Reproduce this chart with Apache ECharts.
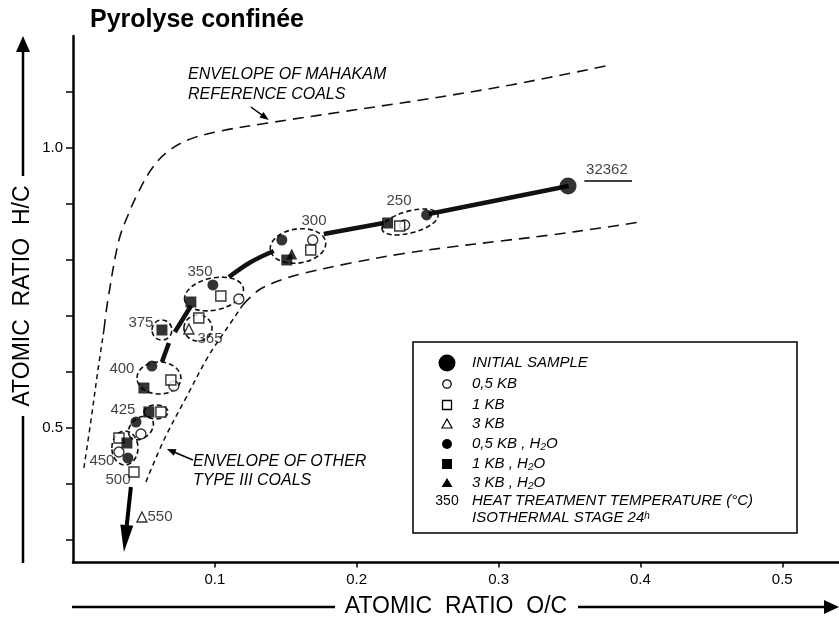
<!DOCTYPE html>
<html><head><meta charset="utf-8">
<script src="https://cdn.jsdelivr.net/npm/echarts@6/dist/echarts.min.js"></script>
<style>html,body{margin:0;padding:0;background:#fff}#c{width:839px;height:621px}</style>
</head><body><div id="c"></div>
<script>
// ---- axis ticks ----
const xTicks = [0.1, 0.2, 0.3, 0.4, 0.5];
const yTicks = [0.3, 0.4, 0.5, 0.6, 0.7, 0.8, 0.9, 1.0, 1.1];
const yLabels = [0.5, 1.0];

// ---- samples (O/C, H/C) ----
const initialSample = [[0.349, 0.932]];
const openCircle05 = [[0.2338,0.8625],[0.1690,0.8357],[0.1169,0.7304],[0.0711,0.5750],[0.0479,0.4893],[0.0324,0.4571]];
const openSquare1 = [[0.2303,0.8607],[0.1676,0.8179],[0.1042,0.7357],[0.0887,0.6964],[0.0690,0.5857],[0.0620,0.5286],[0.0324,0.4821],[0.0430,0.4214]];
const openTriangle3 = [[0.0817,0.6768],[0.0486,0.3411]];
const filledCircle05 = [[0.2493,0.8804],[0.1472,0.8357],[0.0986,0.7554],[0.0556,0.6107],[0.0444,0.5107],[0.0387,0.4464]];
const filledSquare1 = [[0.2218,0.8661],[0.1507,0.8000],[0.0831,0.7250],[0.0627,0.6750],[0.0500,0.5714],[0.0535,0.5286],[0.0380,0.4732]];
const filledTriangle3 = [[0.1542,0.8107]];

// ---- evolution path (thick line segments between clusters) ----
const pathSegments = [
  [[0.3493,0.9321],[0.2507,0.8821]],
  [[0.2190,0.8661],[0.1768,0.8464]],
  [[0.1415,0.8161],[0.1254,0.7964],[0.1099,0.7696]],
  [[0.0831,0.7179],[0.0718,0.6714]],
  [[0.0676,0.6518],[0.0627,0.6179]]
];
const pathArrow = [[0.0408,0.3946,0.0359,0.2786]];

// ---- envelopes ----
const mahakamUpper = [[0.0218,0.675],[0.0246,0.7286],[0.0324,0.8357],[0.0394,0.8839],[0.0458,0.9196],[0.0549,0.9607],[0.0655,0.9911],[0.0810,1.0143],[0.1042,1.0304],[0.1373,1.0446],[0.1887,1.0643],[0.2451,1.0857],[0.3085,1.1125],[0.3754,1.1464]];
const mahakamLower = [[0.1197,0.7196],[0.1310,0.7464],[0.1465,0.7643],[0.1606,0.7750],[0.1958,0.7946],[0.2310,0.8107],[0.2662,0.8232],[0.3014,0.8339],[0.3366,0.8446],[0.3718,0.8571],[0.4000,0.8679]];
const typeIIILeft = [[0.0077,0.4286],[0.0127,0.5143],[0.0176,0.6036],[0.0218,0.675]];
const typeIIIRight = [[0.0514,0.4036],[0.0641,0.4786],[0.0796,0.5536],[0.0951,0.6268],[0.1077,0.6750],[0.1197,0.7196]];

// ---- cluster ellipses: centre x, centre y, radius x, radius y, tilt (deg) ----
const clusterEllipses = [
  [0.2376,0.8679,0.0204,0.0196,15],
  [0.1586,0.8250,0.0197,0.0304,8],
  [0.0994,0.7393,0.0211,0.0286,12],
  [0.0881,0.6786,0.0099,0.0232,0],
  [0.0627,0.6750,0.0070,0.0179,0],
  [0.0606,0.5893,0.0155,0.0286,0],
  [0.0585,0.5286,0.0085,0.0125,0],
  [0.0479,0.5000,0.0099,0.0179,40],
  [0.0366,0.4643,0.0092,0.0304,0]
];

// ---- temperature labels ----
const tempLabels = [[0.2298,0.9054,'250'],[0.1699,0.8696,'300'],[0.0895,0.7786,'350'],[0.0479,0.6875,'375'],[0.0966,0.6589,'365'],[0.0345,0.6054,'400'],[0.0352,0.5321,'425'],[0.0204,0.4411,'450'],[0.0317,0.4071,'500'],[0.0613,0.3411,'550'],[0.3764,0.9607,'32362']];
const sampleUnderline = [[0.3605,0.9411],[0.3941,0.9411]];
const noteArrows = [[0.1254,1.0732,0.1380,1.0500],[0.0845,0.4429,0.0662,0.4625]];

const legendLabels = ['INITIAL SAMPLE','0,5 KB','1 KB','3 KB','0,5 KB , H\u2082O','1 KB , H\u2082O','3 KB , H\u2082O'];
const legendNote = ['350','HEAT TREATMENT TEMPERATURE (\u00b0C)','ISOTHERMAL STAGE 24\u02b0'];

const FONT = "'Liberation Sans','DejaVu Sans',Arial,sans-serif";
const chart = echarts.init(document.getElementById('c'), null, {renderer:'canvas'});

function lineSeries(data, width, dash, z){
  return {type:'line', data, symbol:'none', smooth:0.35, silent:true, z,
    lineStyle:{color:'#111', width, type:dash}, animation:false};
}
function scatter(name, data, symbol, size, filled, z){
  return {type:'scatter', name, data, symbol, symbolSize:size, z, animation:false,
    itemStyle: filled ? {color:'#000'} : {color:'#fff', borderColor:'#000', borderWidth:1.4}};
}
function arrowSeries(data, lineW, headL, headW){
  return {type:'custom', z:2, animation:false, silent:true, clip:false,
    data, encode:{x:[0,2], y:[1,3]},
    renderItem(params, api){
      const a = api.coord([api.value(0), api.value(1)]);
      const b = api.coord([api.value(2), api.value(3)]);
      const dx = b[0]-a[0], dy = b[1]-a[1], len = Math.hypot(dx,dy);
      const ux = dx/len, uy = dy/len, nx = -uy, ny = ux;
      const bx = b[0]-ux*headL, by = b[1]-uy*headL;
      return {type:'group', children:[
        {type:'line', shape:{x1:a[0], y1:a[1], x2:bx+ux*2, y2:by+uy*2}, style:{stroke:'#000', lineWidth:lineW}},
        {type:'polygon', shape:{points:[[b[0],b[1]],[bx+nx*headW,by+ny*headW],[bx-nx*headW,by-ny*headW]]}, style:{fill:'#000'}}
      ]};
    }};
}

const series = [];
series.push(lineSeries(mahakamUpper, 1.6, [11,7], 1));
series.push(lineSeries(mahakamLower, 1.6, [11,7], 1));
series.push(lineSeries(typeIIILeft, 1.5, [5,4], 1));
series.push(lineSeries(typeIIIRight, 1.5, [5,4], 1));
pathSegments.forEach(s => series.push(lineSeries(s, 4.5, 'solid', 2)));
series.push(arrowSeries(pathArrow, 4, 27, 6.5));
series.push(arrowSeries(noteArrows, 1.5, 9, 3.5));
series.push({type:'lines', coordinateSystem:'cartesian2d', z:2, animation:false,
  data:[{coords:sampleUnderline}], symbol:['none','none'],
  lineStyle:{color:'#000', width:1.5, opacity:1}});
series.push({type:'custom', z:3, animation:false, silent:true, clip:false,
  data:clusterEllipses, encode:{x:0, y:1},
  renderItem(params, api){
    const c = api.coord([api.value(0), api.value(1)]);
    const s = api.size([api.value(2), api.value(3)]);
    return {type:'ellipse', x:c[0], y:c[1], rotation: api.value(4)*Math.PI/180,
      shape:{cx:0, cy:0, rx:s[0], ry:s[1]},
      style:{fill:'none', stroke:'#111', lineWidth:1.6, lineDash:[5,3]}};
  }});
series.push(scatter('INITIAL SAMPLE', initialSample, 'circle', 17, true, 5));
series.push(scatter('0,5 KB', openCircle05, 'circle', 10, false, 5));
series.push(scatter('1 KB', openSquare1, 'rect', 10, false, 5));
series.push(scatter('3 KB', openTriangle3, 'triangle', 10, false, 5));
series.push(scatter('0,5 KB H2O', filledCircle05, 'circle', 11, true, 5));
series.push(scatter('1 KB H2O', filledSquare1, 'rect', 11, true, 5));
series.push(scatter('3 KB H2O', filledTriangle3, 'triangle', 11, true, 5));
series.push({type:'scatter', data:tempLabels, symbolSize:1, z:6, animation:false, silent:true,
  itemStyle:{color:'rgba(0,0,0,0)'},
  label:{show:true, position:'inside', formatter:p => p.value[2], color:'#111', fontSize:15, fontFamily:FONT}});

// legend & titles drawn as graphics
const LX = 447, TX = 472, rowsY = [363,384,405,424,444,464,483];
const gfx = [
  {type:'text', left:90, top:8, style:{text:'Pyrolyse confinée', font:"bold 25px "+FONT, fill:'#000'}},
  // x title
  {type:'line', shape:{x1:72,y1:607,x2:335,y2:607}, style:{stroke:'#000', lineWidth:2.5}},
  {type:'text', x:456, y:607, style:{text:'ATOMIC  RATIO  O/C', font:"23px "+FONT, fill:'#000', align:'center', verticalAlign:'middle'}},
  {type:'line', shape:{x1:578,y1:607,x2:828,y2:607}, style:{stroke:'#000', lineWidth:2.5}},
  {type:'polygon', shape:{points:[[824,600],[839,607],[824,614]]}, style:{fill:'#000'}},
  // y title
  {type:'polygon', shape:{points:[[23,36],[16,52],[30,52]]}, style:{fill:'#000'}},
  {type:'line', shape:{x1:23,y1:50,x2:23,y2:176}, style:{stroke:'#000', lineWidth:2.5}},
  {type:'text', x:23, y:296, rotation:Math.PI/2, style:{text:'ATOMIC  RATIO  H/C', font:"23px "+FONT, fill:'#000', align:'center', verticalAlign:'middle'}},
  {type:'line', shape:{x1:23,y1:416,x2:23,y2:563}, style:{stroke:'#000', lineWidth:2.5}},
  // envelope notes
  {type:'text', x:188, y:75, style:{text:'ENVELOPE OF MAHAKAM', font:"italic 16px "+FONT, fill:'#000', verticalAlign:'middle'}},
  {type:'text', x:188, y:95, style:{text:'REFERENCE COALS', font:"italic 16px "+FONT, fill:'#000', verticalAlign:'middle'}},
  {type:'text', x:193, y:462, style:{text:'ENVELOPE OF OTHER', font:"italic 16px "+FONT, fill:'#000', verticalAlign:'middle'}},
  {type:'text', x:193, y:481, style:{text:'TYPE III COALS', font:"italic 16px "+FONT, fill:'#000', verticalAlign:'middle'}},
  // legend box
  {type:'rect', shape:{x:413,y:342,width:384,height:191}, style:{fill:'#fff', stroke:'#000', lineWidth:1.5}, z:10},
  {type:'circle', shape:{cx:LX, cy:rowsY[0], r:8.5}, style:{fill:'#000'}, z:11},
  {type:'circle', shape:{cx:LX, cy:rowsY[1], r:4.2}, style:{fill:'#fff', stroke:'#000', lineWidth:1.3}, z:11},
  {type:'rect', shape:{x:LX-4.5, y:rowsY[2]-4.5, width:9, height:9}, style:{fill:'#fff', stroke:'#000', lineWidth:1.3}, z:11},
  {type:'polygon', shape:{points:[[LX,rowsY[3]-5],[LX-5,rowsY[3]+4],[LX+5,rowsY[3]+4]]}, style:{fill:'#fff', stroke:'#000', lineWidth:1.2}, z:11},
  {type:'circle', shape:{cx:LX, cy:rowsY[4], r:5}, style:{fill:'#000'}, z:11},
  {type:'rect', shape:{x:LX-5, y:rowsY[5]-5, width:10, height:10}, style:{fill:'#000'}, z:11},
  {type:'polygon', shape:{points:[[LX,rowsY[6]-5],[LX-5.5,rowsY[6]+4],[LX+5.5,rowsY[6]+4]]}, style:{fill:'#000'}, z:11},
  {type:'text', x:LX, y:501, style:{text:legendNote[0], font:"14px "+FONT, fill:'#000', align:'center', verticalAlign:'middle'}, z:11},
  {type:'text', x:TX, y:501, style:{text:legendNote[1], font:"italic 15px "+FONT, fill:'#000', verticalAlign:'middle'}, z:11},
  {type:'text', x:TX, y:518, style:{text:legendNote[2], font:"italic 15px "+FONT, fill:'#000', verticalAlign:'middle'}, z:11}
];
legendLabels.forEach((t,i) => gfx.push({type:'text', x:TX, y:rowsY[i], z:11,
  style:{text:t, font:"italic 15px "+FONT, fill:'#000', verticalAlign:'middle'}}));

chart.setOption({
  animation:false,
  backgroundColor:'#fff',
  grid:{left:73, width:766, top:36, height:526.4},
  xAxis:{type:'value', min:0, max:0.54,
    axisLine:{lineStyle:{color:'#000', width:2.5}},
    axisTick:{customValues:xTicks, length:5, lineStyle:{color:'#000', width:1.5}},
    axisLabel:{customValues:xTicks, margin:10, color:'#000', fontSize:15, fontFamily:FONT, formatter:v => v.toFixed(1)},
    splitLine:{show:false}},
  yAxis:{type:'value', min:0.26, max:1.2,
    axisLine:{show:true, lineStyle:{color:'#000', width:2.5}},
    axisTick:{show:true, customValues:yTicks, length:7, lineStyle:{color:'#000', width:1.5}},
    axisLabel:{customValues:yLabels, margin:10, color:'#000', fontSize:15, fontFamily:FONT, formatter:v => v.toFixed(1)},
    splitLine:{show:false}},
  series,
  graphic:gfx
});
</script></body></html>
